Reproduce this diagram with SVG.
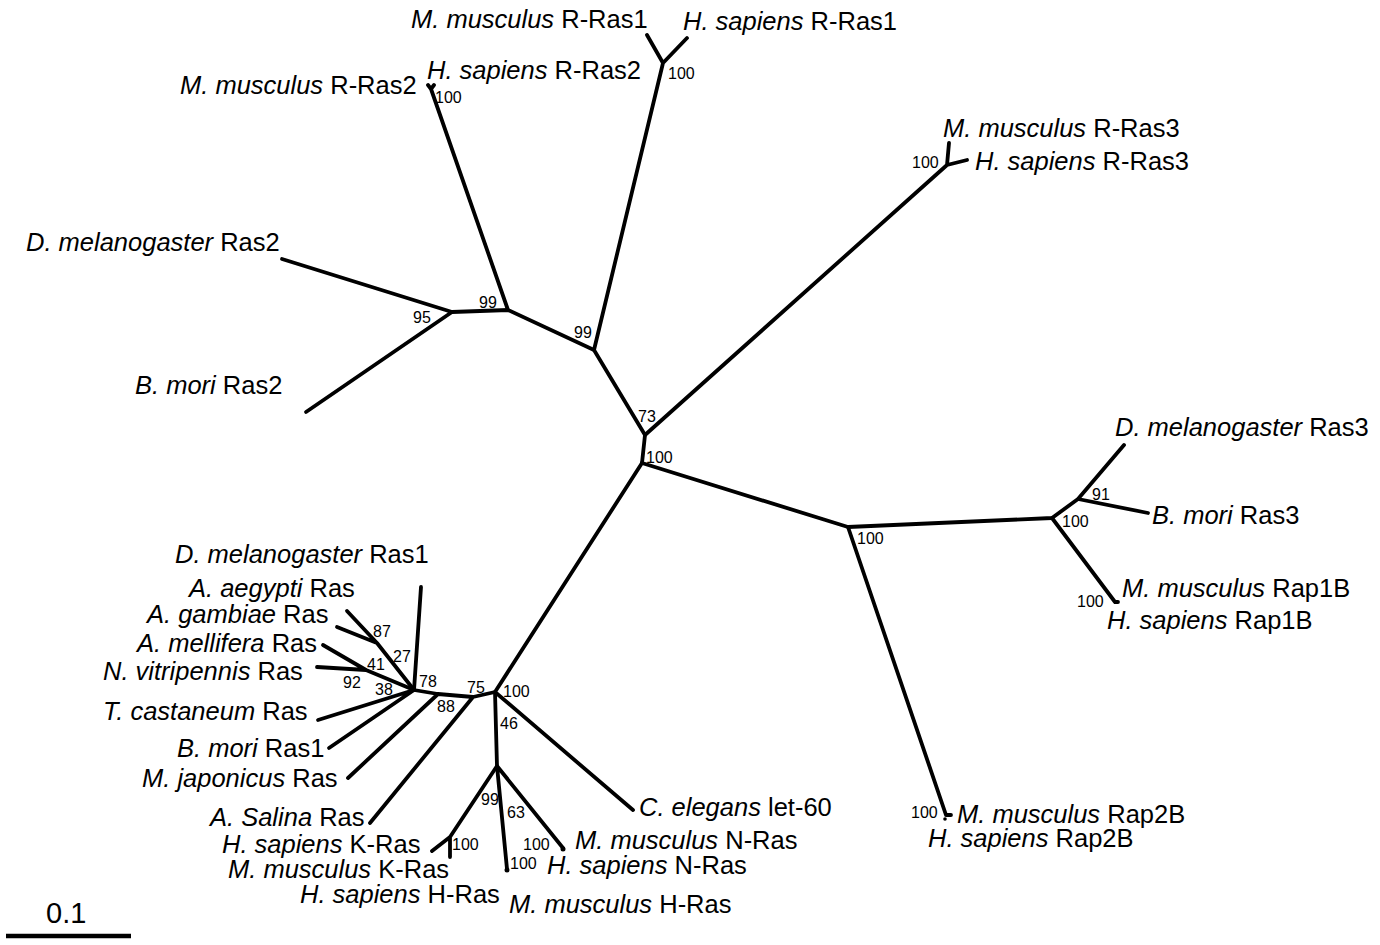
<svg xmlns="http://www.w3.org/2000/svg" width="1380" height="945" viewBox="0 0 1380 945">
<style>
.e{stroke:#000;stroke-width:3.8;fill:none;stroke-linecap:round;stroke-linejoin:round}
.t{font-family:"Liberation Sans",Arial,sans-serif;font-size:25.5px;fill:#000}
.b{font-family:"Liberation Sans",Arial,sans-serif;font-size:16px;fill:#000}
.i{font-style:italic}
</style>
<rect width="1380" height="945" fill="#fff"/>
<g id="connectors">
<path class="e" d="M642,463 L645,435 M645,435 L594,350 M594,350 L508,310 M508,310 L452,312"/>
<path class="e" d="M594,350 L663,63 M663,63 L647,35 M663,63 L687,38"/>
<path class="e" d="M508,310 L431,89 M431,89 L428,85 M431,89 L434,85"/>
<path class="e" d="M645,435 L947,165 M947,165 L949,143 M947,165 L967,160"/>
<path class="e" d="M452,312 L282,259 M452,312 L306,412"/>
<path class="e" d="M642,463 L848,527 M848,527 L1052,518 M1052,518 L1078,499 M1078,499 L1124,445 M1078,499 L1148,513"/>
<path class="e" d="M1052,518 L1115,602 M1115,602 L1118,602"/>
<path class="e" d="M848,527 L946,815 M946,815 L951,815"/>
<circle cx="945" cy="819" r="1.8"/>
<path class="e" d="M642,463 L495,692 M495,692 L633,810 M495,692 L473,697 M473,697 L370,823 M473,697 L438,694 M438,694 L348,778 M438,694 L414,690"/>
<path class="e" d="M414,690 L421,587 M414,690 L318,720 M414,690 L329,748"/>
<path class="e" d="M414,690 L377,643 M377,643 L347,611 M377,643 L337,627"/>
<path class="e" d="M414,690 L366,670 M366,670 L323,645 M366,670 L317,667"/>
<path class="e" d="M495,692 L497,766 M497,766 L450,837 M450,837 L432,851 M450,837 L450,857"/>
<path class="e" d="M497,766 L507,869 M497,766 L563,848"/>
<circle cx="507" cy="870" r="2.5"/>
<circle cx="563" cy="849" r="2.5"/>
<path class="e" d="M6,936 L131,936" style="stroke-width:4.5;stroke-linecap:butt"/>
</g>
<g id="scale"><text class="t" x="46" y="923" style="font-size:29px">0.1</text></g>
<g id="n_rras1">
<text class="t" x="411" y="28"><tspan class="i">M. musculus</tspan> R-Ras1</text>
<text class="t" x="683" y="30"><tspan class="i">H. sapiens</tspan> R-Ras1</text>
<text class="b" x="668" y="79">100</text>
</g>
<g id="n_rras2">
<text class="t" x="180" y="94"><tspan class="i">M. musculus</tspan> R-Ras2</text>
<text class="t" x="427" y="79"><tspan class="i">H. sapiens</tspan> R-Ras2</text>
<text class="b" x="435" y="103">100</text>
</g>
<g id="n_rras3">
<text class="t" x="943" y="137"><tspan class="i">M. musculus</tspan> R-Ras3</text>
<text class="t" x="975" y="170"><tspan class="i">H. sapiens</tspan> R-Ras3</text>
<text class="b" x="912" y="168">100</text>
</g>
<g id="n_dmras2"><text class="t" x="26" y="251"><tspan class="i">D. melanogaster</tspan> Ras2</text></g>
<g id="n_bmras2"><text class="t" x="135" y="394"><tspan class="i">B. mori</tspan> Ras2</text></g>
<g id="n_E"><text class="b" x="413" y="323">95</text></g>
<g id="n_D"><text class="b" x="479" y="308">99</text></g>
<g id="n_C"><text class="b" x="574" y="338">99</text></g>
<g id="n_B"><text class="b" x="638" y="422">73</text></g>
<g id="n_A"><text class="b" x="646" y="463">100</text></g>
<g id="n_F"><text class="b" x="857" y="544">100</text></g>
<g id="n_H"><text class="b" x="1062" y="527">100</text></g>
<g id="n_I"><text class="b" x="1092" y="500">91</text></g>
<g id="n_dmras3"><text class="t" x="1115" y="436"><tspan class="i">D. melanogaster</tspan> Ras3</text></g>
<g id="n_bmras3"><text class="t" x="1152" y="524"><tspan class="i">B. mori</tspan> Ras3</text></g>
<g id="n_rap1b">
<text class="t" x="1122" y="597"><tspan class="i">M. musculus</tspan> Rap1B</text>
<text class="t" x="1107" y="629"><tspan class="i">H. sapiens</tspan> Rap1B</text>
<text class="b" x="1077" y="607">100</text>
</g>
<g id="n_rap2b">
<text class="t" x="957" y="823"><tspan class="i">M. musculus</tspan> Rap2B</text>
<text class="t" x="928" y="847"><tspan class="i">H. sapiens</tspan> Rap2B</text>
<text class="b" x="911" y="818">100</text>
</g>
<g id="n_celegans"><text class="t" x="639" y="816"><tspan class="i">C. elegans</tspan> let-60</text></g>
<g id="n_G"><text class="b" x="503" y="697">100</text></g>
<g id="n_J"><text class="b" x="467" y="693">75</text></g>
<g id="n_M"><text class="b" x="437" y="712">88</text></g>
<g id="n_L"><text class="b" x="419" y="687">78</text></g>
<g id="n_87"><text class="b" x="373" y="637">87</text></g>
<g id="n_27"><text class="b" x="393" y="662">27</text></g>
<g id="n_41"><text class="b" x="367" y="670">41</text></g>
<g id="n_92"><text class="b" x="343" y="688">92</text></g>
<g id="n_38"><text class="b" x="375" y="695">38</text></g>
<g id="n_K"><text class="b" x="500" y="729">46</text></g>
<g id="n_Q"><text class="b" x="481" y="805">99</text><text class="b" x="452" y="850">100</text></g>
<g id="n_63"><text class="b" x="507" y="818">63</text></g>
<g id="n_dmras1"><text class="t" x="175" y="563"><tspan class="i">D. melanogaster</tspan> Ras1</text></g>
<g id="n_aaeg"><text class="t" x="189" y="597"><tspan class="i">A. aegypti</tspan> Ras</text></g>
<g id="n_agam"><text class="t" x="147" y="623"><tspan class="i">A. gambiae</tspan> Ras</text></g>
<g id="n_amel"><text class="t" x="137" y="652"><tspan class="i">A. mellifera</tspan> Ras</text></g>
<g id="n_nvit"><text class="t" x="103" y="680"><tspan class="i">N. vitripennis</tspan> Ras</text></g>
<g id="n_tcas"><text class="t" x="103" y="720"><tspan class="i">T. castaneum</tspan> Ras</text></g>
<g id="n_bmras1"><text class="t" x="177" y="757"><tspan class="i">B. mori</tspan> Ras1</text></g>
<g id="n_mjap"><text class="t" x="142" y="787"><tspan class="i">M. japonicus</tspan> Ras</text></g>
<g id="n_asal"><text class="t" x="210" y="826"><tspan class="i">A. Salina</tspan> Ras</text></g>
<g id="n_kras">
<text class="t" x="222" y="853"><tspan class="i">H. sapiens</tspan> K-Ras</text>
<text class="t" x="228" y="878"><tspan class="i">M. musculus</tspan> K-Ras</text>
</g>
<g id="n_hras">
<text class="t" x="300" y="903"><tspan class="i">H. sapiens</tspan> H-Ras</text>
<text class="t" x="509" y="913"><tspan class="i">M. musculus</tspan> H-Ras</text>
<text class="b" x="510" y="869">100</text>
</g>
<g id="n_nras">
<text class="t" x="575" y="849"><tspan class="i">M. musculus</tspan> N-Ras</text>
<text class="t" x="547" y="874"><tspan class="i">H. sapiens</tspan> N-Ras</text>
<text class="b" x="523" y="850">100</text>
</g>
</svg>
